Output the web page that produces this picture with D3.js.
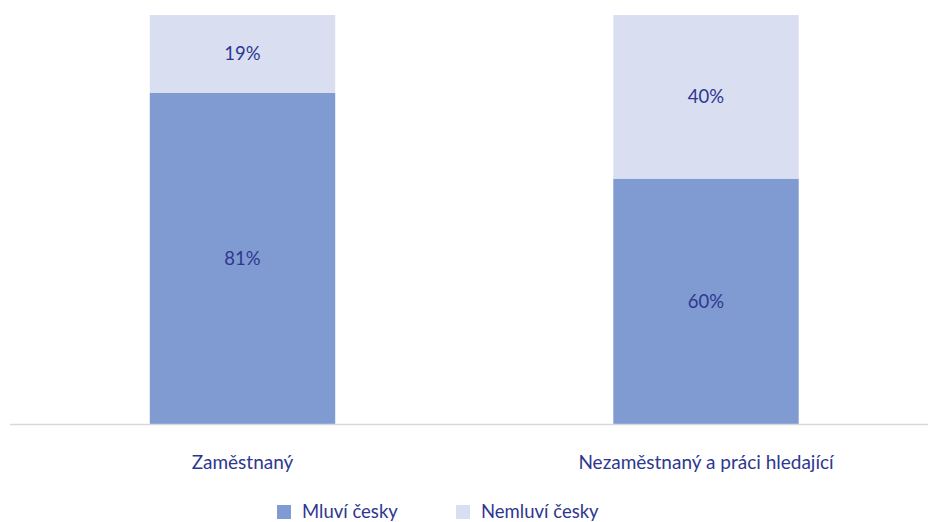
<!DOCTYPE html>
<html>
<head>
<meta charset="utf-8">
<script src="https://cdn.jsdelivr.net/npm/d3@7"></script>
<style>
  body { margin: 0; background: #fff; }
  text { font-family: "Lato", "Open Sans", sans-serif; fill: #2e3790; }
</style>
</head>
<body>
<svg id="chart"></svg>
<script>
const width = 928, height = 522;

const categories = ['Zaměstnaný', 'Nezaměstnaný a práci hledající'];
const seriesNames = ['Mluví česky', 'Nemluví česky'];
const mluvi = [81, 60];
const nemluvi = [19, 40];
const seriesColors = ['#7f9bd1', '#d9dff1'];

const rows = categories.map((c, i) => ({cat: c, 'Mluví česky': mluvi[i], 'Nemluví česky': nemluvi[i]}));
const stacked = d3.stack().keys(seriesNames)(rows);

const svg = d3.select('#chart')
    .attr('width', width)
    .attr('height', height);

const x = d3.scaleBand()
    .domain(categories)
    .range([10.75, 937.75])
    .paddingInner(0.6)
    .paddingOuter(0.3);

const y = d3.scaleLinear()
    .domain([0, 100])
    .range([424, 15]);

const color = d3.scaleOrdinal().domain(seriesNames).range(seriesColors);

const layers = svg.selectAll('.layer')
    .data(stacked)
    .join('g')
    .attr('class', 'layer')
    .attr('fill', d => color(d.key));

layers.selectAll('rect')
    .data(d => d)
    .join('rect')
    .attr('x', d => x(d.data.cat))
    .attr('y', d => y(d[1]))
    .attr('width', x.bandwidth())
    .attr('height', d => y(d[0]) - y(d[1]));

layers.selectAll('.val')
    .data(d => d)
    .join('text')
    .attr('class', 'val')
    .attr('x', d => x(d.data.cat) + x.bandwidth() / 2)
    .attr('y', d => (y(d[0]) + y(d[1])) / 2)
    .attr('dy', '0.35em')
    .attr('text-anchor', 'middle')
    .attr('font-size', '18.5px')
    .text(d => (d[1] - d[0]) + '%');

// baseline
svg.append('line')
    .attr('x1', 10).attr('x2', width)
    .attr('y1', y(0) + 0.5).attr('y2', y(0) + 0.5)
    .attr('stroke', '#d9d9d9')
    .attr('stroke-width', 1.5);

svg.selectAll('.cat')
    .data(categories)
    .join('text')
    .attr('class', 'cat')
    .attr('x', d => x(d) + x.bandwidth() / 2)
    .attr('y', 462)
    .attr('dy', '0.35em')
    .attr('text-anchor', 'middle')
    .attr('font-size', '19px')
    .text(d => d);

// legend
const legendX = [277, 456];
const legend = svg.selectAll('.legend')
    .data(seriesNames)
    .join('g')
    .attr('class', 'legend')
    .attr('transform', (d, i) => `translate(${legendX[i]},505)`);

legend.append('rect')
    .attr('width', 14).attr('height', 14)
    .attr('fill', d => color(d));

legend.append('text')
    .attr('x', 25)
    .attr('y', 7)
    .attr('dy', '0.35em')
    .attr('font-size', '18.5px')
    .text(d => d);
</script>
</body>
</html>
